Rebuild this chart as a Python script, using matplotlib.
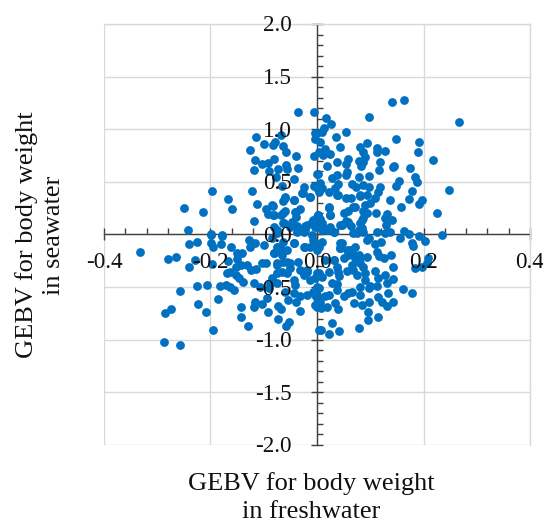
import matplotlib
matplotlib.use('Agg')
import matplotlib.pyplot as plt
from matplotlib.ticker import MultipleLocator

# GEBV values, grouped by quadrant
ul_x = [-0.036,-0.006,-0.114,-0.068,-0.1,-0.078,-0.083,-0.063,-0.125,-0.058,-0.04,-0.116,-0.103,-0.092,-0.08,-0.058,-0.119,-0.091,-0.073,-0.056,-0.036,-0.077,-0.043,-0.066,-0.025,-0.122,-0.028,-0.013,-0.197,-0.167,-0.06,-0.064,-0.043,-0.113,-0.083,-0.095,-0.249,-0.215,-0.16,-0.06,-0.031,-0.04,-0.092,-0.082,-0.067,-0.04,-0.119,-0.062,-0.047,-0.243,-0.2,-0.178,-0.081,-0.038,-0.022,-0.05,-0.01,0.0,-0.003,-0.003,-0.005,0.0,-0.005,-0.075,-0.038,-0.022,-0.003]
ul_y = [1.16,1.16,0.93,0.945,0.857,0.88,0.85,0.845,0.806,0.784,0.75,0.705,0.67,0.676,0.717,0.657,0.61,0.603,0.62,0.62,0.63,0.543,0.527,0.464,0.448,0.413,0.397,0.36,0.41,0.337,0.353,0.321,0.328,0.29,0.27,0.245,0.249,0.217,0.239,0.226,0.245,0.217,0.195,0.188,0.182,0.163,0.131,0.106,0.122,0.04,0.0,-0.005,0.074,0.08,0.08,0.074,0.122,0.17,0.96,0.907,0.75,0.575,0.46,0.01,0.027,0.04,0.074]

ur_x = [0.163,0.14,0.097,0.266,0.017,0.026,0.014,0.01,0.0,0.054,0.035,0.148,0.093,0.191,0.006,0.043,0.081,0.113,0.087,0.113,0.127,0.19,0.015,0.004,0.012,0.025,0.09,0.218,0.058,0.079,0.118,0.037,0.087,0.054,0.019,0.083,0.145,0.142,0.175,0.117,0.056,0.002,0.037,0.054,0.078,0.098,0.029,0.184,0.187,0.154,0.148,0.006,0.039,0.065,0.073,0.087,0.097,0.118,0.0,0.009,0.033,0.179,0.247,0.115,0.094,0.023,0.08,0.039,0.054,0.109,0.138,0.173,0.198,0.191,0.157,0.1,0.09,0.022,0.072,0.059,0.05,0.086,0.226,0.11,0.132,0.024,0.002,0.087,0.084,0.128,0.14,0.006,0.13,0.054,0.059,0.064,0.044,0.009,0.025,0.084,0.078,0.031,0.009,0.112,0.137,0.163,0.128,0.075,0.087,0.172,0.192,0.234]
ur_y = [1.278,1.26,1.116,1.066,1.104,1.053,1.009,0.977,0.96,0.971,0.923,0.904,0.873,0.882,0.882,0.828,0.828,0.825,0.787,0.787,0.797,0.784,0.809,0.787,0.755,0.762,0.739,0.708,0.714,0.701,0.692,0.686,0.692,0.67,0.651,0.651,0.651,0.638,0.629,0.61,0.597,0.575,0.565,0.565,0.549,0.556,0.534,0.543,0.502,0.508,0.461,0.486,0.477,0.477,0.454,0.47,0.448,0.448,0.439,0.439,0.445,0.413,0.423,0.407,0.375,0.407,0.366,0.372,0.35,0.344,0.328,0.337,0.325,0.287,0.264,0.296,0.28,0.255,0.264,0.226,0.207,0.226,0.207,0.2,0.195,0.185,0.185,0.154,0.138,0.154,0.138,0.144,0.09,0.131,0.106,0.084,0.09,0.081,0.074,0.058,0.043,0.027,0.043,0.02,0.027,0.033,0.011,0.011,0.027,0.005,-0.014,-0.005]

ll_x = [-0.333,-0.28,-0.264,-0.241,-0.226,-0.23,-0.24,-0.197,-0.2,-0.178,-0.2,-0.195,-0.18,-0.161,-0.168,-0.15,-0.141,-0.15,-0.143,-0.153,-0.128,-0.116,-0.125,-0.1,-0.132,-0.124,-0.114,-0.103,-0.096,-0.163,-0.169,-0.153,-0.147,-0.139,-0.119,-0.107,-0.258,-0.226,-0.206,-0.183,-0.17,-0.163,-0.156,-0.185,-0.224,-0.274,-0.286,-0.208,-0.143,-0.119,-0.117,-0.103,-0.093,-0.092,-0.142,-0.13,-0.195,-0.287,-0.258,-0.073,-0.073,-0.068,-0.053,-0.058,-0.032,-0.055,-0.04,-0.032,-0.019,-0.007,0.0,0.0,0.004,-0.044,-0.06,-0.075,-0.085,-0.044,-0.041,-0.075,-0.056,-0.066,-0.05,-0.075,-0.063,-0.05,-0.066,-0.081,-0.056,-0.072,-0.063,-0.044,-0.025,-0.013,0.0,-0.031,-0.025,-0.013,0.003,0.0,-0.019,-0.088,-0.091]
ll_y = [-0.163,-0.236,-0.214,-0.094,-0.068,-0.242,-0.306,-0.28,-0.005,-0.011,-0.078,-0.122,-0.09,-0.122,-0.249,-0.173,-0.179,-0.236,-0.29,-0.306,-0.052,-0.084,-0.122,-0.1,-0.29,-0.337,-0.331,-0.274,-0.268,-0.353,-0.369,-0.385,-0.416,-0.448,-0.459,-0.496,-0.537,-0.486,-0.48,-0.489,-0.48,-0.502,-0.527,-0.616,-0.657,-0.705,-0.743,-0.74,-0.686,-0.686,-0.638,-0.66,-0.606,-0.733,-0.78,-0.873,-0.91,-1.018,-1.053,-0.803,-0.68,-0.711,-0.834,-0.87,-0.727,-0.622,-0.645,-0.585,-0.575,-0.543,-0.575,-0.686,-0.907,-0.56,-0.543,-0.464,-0.416,-0.432,-0.48,-0.369,-0.369,-0.353,-0.321,-0.29,-0.258,-0.274,-0.195,-0.18,-0.147,-0.116,-0.068,-0.084,-0.116,-0.116,-0.147,-0.337,-0.385,-0.432,-0.369,-0.496,-0.353,-0.464,-0.512]

lr_x = [0.203,0.178,0.18,0.155,0.12,0.108,0.097,0.072,0.062,0.044,0.044,0.009,-0.003,0.003,0.139,0.113,0.117,0.125,0.094,0.078,0.059,0.05,0.072,0.081,0.031,0.037,0.209,0.206,0.184,0.197,0.143,0.109,0.056,0.068,0.075,0.09,0.042,0.022,0.009,-0.003,0.128,0.115,0.142,0.132,0.113,0.097,0.1,0.081,0.09,0.028,0.037,0.037,0.003,0.162,0.178,0.134,0.081,0.065,0.05,0.059,0.115,0.122,0.143,0.131,0.097,0.084,0.07,0.034,0.039,0.019,0.008,0.095,0.095,0.115,0.028,0.008,0.022,0.041,0.079,-0.003,0.0,0.006,-0.003,0.022,0.015]
lr_y = [-0.059,-0.078,-0.11,-0.036,-0.068,-0.09,-0.036,-0.116,-0.147,-0.084,-0.131,-0.068,-0.084,-0.116,-0.195,-0.163,-0.204,-0.226,-0.21,-0.195,-0.195,-0.226,-0.226,-0.274,-0.242,-0.306,-0.226,-0.274,-0.321,-0.312,-0.312,-0.347,-0.344,-0.337,-0.385,-0.369,-0.391,-0.353,-0.4,-0.41,-0.385,-0.416,-0.423,-0.464,-0.486,-0.511,-0.49,-0.496,-0.432,-0.458,-0.474,-0.527,-0.511,-0.521,-0.559,-0.553,-0.575,-0.543,-0.585,-0.559,-0.597,-0.638,-0.645,-0.68,-0.638,-0.67,-0.654,-0.648,-0.711,-0.686,-0.702,-0.733,-0.812,-0.787,-0.844,-0.907,-0.949,-0.914,-0.891,-0.575,-0.607,-0.638,-0.67,-0.575,-0.585]

mid_x = [-0.06,-0.027,-0.043,-0.014,0.003,0.037,0.023,0.025,0.063,0.081,0.068,-0.085,-0.063,-0.081,-0.041,0.002,-0.007,0.009,0.047,0.059,0.081,0.094,-0.063,-0.038,-0.019,0.019,0.031,-0.01,-0.025,-0.044,-0.007,-0.022,0.047,0.043,-0.075,-0.081,-0.066,-0.075,-0.056,-0.035,-0.019,0.0,0.015,0.031,0.04,0.056,0.069,0.081,0.065,0.087,0.094,0.084,0.068,-0.075,-0.085]
mid_y = [0.344,0.397,0.328,0.353,0.407,0.375,0.264,0.185,0.344,0.375,0.264,0.28,0.2,0.185,0.217,0.185,0.138,0.106,0.09,0.122,0.106,0.2,0.106,0.074,0.09,0.043,0.027,-0.005,0.027,-0.084,-0.052,-0.116,-0.084,-0.131,-0.116,-0.179,-0.147,-0.274,-0.258,-0.258,-0.337,-0.369,-0.242,-0.242,-0.353,-0.147,-0.195,-0.21,-0.29,-0.306,-0.052,0.043,0.011,0.043,-0.037]

x_values = ul_x + ur_x + ll_x + lr_x + mid_x
y_values = ul_y + ur_y + ll_y + lr_y + mid_y

x_ticks = [-0.4, -0.2, 0.0, 0.2, 0.4]
y_ticks = [-2.0, -1.5, -1.0, -0.5, 0.0, 0.5, 1.0, 1.5, 2.0]

plt.rcParams['font.family'] = ['Liberation Serif']

fig = plt.figure(figsize=(5.43, 5.22), dpi=100)
ax = fig.add_axes([104/543, 1 - 445/522, 426/543, 421/522])

ax.set_axisbelow(True)
ax.scatter(x_values, y_values, s=40, color='#0070C0', linewidths=0, zorder=3)

ax.set_xlim(-0.4, 0.4)
ax.set_ylim(-2.0, 2.0)

ax.grid(True, color='#D9D9D9', linewidth=1.0)
for side in ['top', 'right']:
    ax.spines[side].set_color('#D9D9D9')
    ax.spines[side].set_linewidth(1.0)

# Axes cross at zero, like a spreadsheet chart
for side in ['left', 'bottom']:
    ax.spines[side].set_position('zero')
    ax.spines[side].set_color('#404040')
    ax.spines[side].set_linewidth(1.0)
    ax.spines[side].set_zorder(1)

ax.xaxis.set_major_locator(MultipleLocator(0.2))
ax.xaxis.set_minor_locator(MultipleLocator(0.04))
ax.yaxis.set_major_locator(MultipleLocator(0.5))
ax.yaxis.set_minor_locator(MultipleLocator(0.1))

ax.tick_params(axis='both', which='major', direction='inout', length=8.6, width=1.0, color='#404040', labelbottom=False, labelleft=False)
ax.tick_params(axis='both', which='minor', direction='in', length=4.3, width=1.0, color='#404040')

# Labels sit on top of the dots, so they are drawn as text and not as tick labels
for t in x_ticks:
    ax.annotate('%.1f' % t, (t, 0), xytext=(0, -28), textcoords='offset pixels', ha='center', va='center',
                fontsize=16.7, color='#111111', zorder=5, annotation_clip=False)
for t in y_ticks:
    ax.annotate('%.1f' % t, (0, t), xytext=(-25, -2), textcoords='offset pixels', ha='right', va='center',
                fontsize=16.7, color='#111111', zorder=5, annotation_clip=False)

fig.text(311/543, 1 - 484/522, 'GEBV for body weight', ha='center', va='center', fontsize=19, color='#111111')
fig.text(311/543, 1 - 512/522, 'in freshwater', ha='center', va='center', fontsize=19, color='#111111')
fig.text(27/543, 1 - 235/522, 'GEBV for body weight', ha='center', va='center', rotation=90, fontsize=19, color='#111111')
fig.text(54/543, 1 - 235/522, 'in seawater', ha='center', va='center', rotation=90, fontsize=19, color='#111111')

fig.savefig('out.png', dpi=100)
